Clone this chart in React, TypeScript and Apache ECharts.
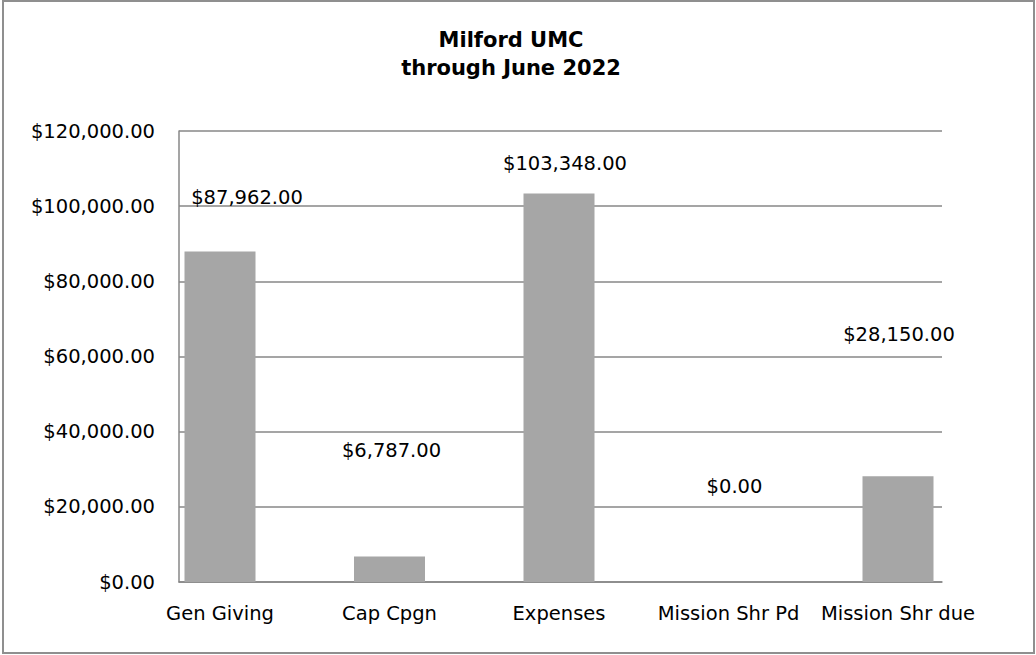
import React, { useEffect, useRef } from "react";
import * as echarts from "echarts";

const categories = ["Gen Giving", "Cap Cpgn", "Expenses", "Mission Shr Pd", "Mission Shr due"];
const values = [87962, 6787, 103348, 0, 28150];
const titleLines = ["Milford UMC", "through June 2022"];
const yMin = 0;
const yMax = 120000;
const yInterval = 20000;

// label placement (styling only)
const labelOffsets: [number, number][] = [
  [27, -44],
  [2, -96],
  [6, -20],
  [6, -86],
  [1, -132],
];

const FONT = "'DejaVu Sans', Verdana, sans-serif";
const GRID_COLOR = "#878787";
const FS = 19.5;

const money = (v: number) =>
  "$" + Number(v).toLocaleString("en-US", { minimumFractionDigits: 2, maximumFractionDigits: 2 });

export default function App() {
  const ref = useRef<HTMLDivElement>(null);
  useEffect(() => {
    if (!ref.current) return;
    const chart = echarts.init(ref.current, undefined, { renderer: "svg" });
    chart.setOption({
      animation: false,
      backgroundColor: "#ffffff",
      textStyle: { fontFamily: FONT },
      graphic: [
        {
          type: "rect",
          shape: { x: 3, y: 1, width: 1031, height: 652 },
          style: { fill: "none", stroke: "#8f8f8f", lineWidth: 2 },
          silent: true,
        },
        {
          type: "text",
          x: 511,
          y: 40,
          style: {
            text: titleLines[0],
            align: "center",
            verticalAlign: "middle",
            font: `bold 21px ${FONT}`,
            fill: "#000",
          },
        },
        {
          type: "text",
          x: 511,
          y: 68,
          style: {
            text: titleLines[1],
            align: "center",
            verticalAlign: "middle",
            font: `bold 21px ${FONT}`,
            fill: "#000",
          },
        },
      ],
      grid: [
        { left: 179, right: 94, top: 131, bottom: 73, containLabel: false },
        { left: 135.25, right: 53.25, top: 131, bottom: 73, containLabel: false },
      ],
      xAxis: [
        {
          gridIndex: 0,
          type: "category",
          data: categories,
          axisLabel: { show: false },
          axisTick: { show: false },
          axisLine: { show: true, lineStyle: { color: GRID_COLOR, width: 1.5 } },
          splitLine: { show: false },
        },
        {
          gridIndex: 1,
          type: "category",
          data: categories,
          axisLine: { show: false },
          axisTick: { show: false },
          splitLine: { show: false },
          axisLabel: {
            interval: 0,
            margin: 21,
            fontSize: FS,
            color: "#000",
            fontFamily: FONT,
          },
        },
      ],
      yAxis: [
        {
          gridIndex: 0,
          type: "value",
          min: yMin,
          max: yMax,
          interval: yInterval,
          axisLine: { show: true, lineStyle: { color: GRID_COLOR, width: 1.5 } },
          axisTick: { show: false },
          splitLine: { show: true, lineStyle: { color: GRID_COLOR, width: 1.5 } },
          axisLabel: {
            margin: 24,
            fontSize: FS,
            color: "#000",
            fontFamily: FONT,
            formatter: (v: number) => money(v),
          },
        },
        {
          gridIndex: 1,
          type: "value",
          min: yMin,
          max: yMax,
          interval: yInterval,
          show: false,
          splitLine: { show: false },
        },
      ],
      series: [
        {
          type: "bar",
          xAxisIndex: 1,
          yAxisIndex: 1,
          barWidth: 71,
          itemStyle: { color: "#a6a6a6" },
          label: {
            show: true,
            position: "top",
            distance: 0,
            fontSize: FS,
            lineHeight: 20,
            color: "#000",
            fontFamily: FONT,
            formatter: (p: any) => money(p.value),
          },
          data: values.map((v, i) => ({ value: v, label: { offset: labelOffsets[i] } })),
        },
      ],
    });
    return () => chart.dispose();
  }, []);
  return (
    <div
      ref={ref}
      style={{ position: "absolute", left: 0, top: 0, width: 1036, height: 655 }}
    />
  );
}
